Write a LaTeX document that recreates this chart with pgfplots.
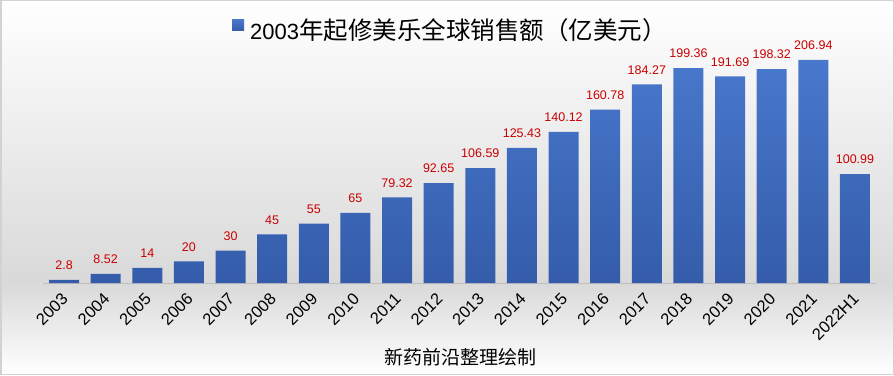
\documentclass[border=0pt]{standalone}
\usepackage{pgfplots}
\pgfplotsset{compat=1.18}
\usepackage{fontspec}
\setmainfont{Liberation Sans}
\newfontfamily\cjk{Noto Sans CJK SC}
\definecolor{barTop}{RGB}{72,120,204}
\definecolor{barBot}{RGB}{52,92,170}
\definecolor{lblred}{RGB}{204,0,0}
\definecolor{bgGray}{RGB}{217,217,217}
\definecolor{frameGray}{RGB}{210,210,210}
\definecolor{axisGray}{RGB}{190,190,190}
\begin{document}
\begin{tikzpicture}[x=1pt,y=1pt]
\useasboundingbox (0,0) rectangle (894,375);
\shade[top color=white, bottom color=bgGray] (0,92) rectangle (894,375);
\shade[top color=bgGray, bottom color=white] (0,0) rectangle (894,92.2);
\draw[frameGray, line width=1.5pt] (0.75,0.75) rectangle (893.25,374.25);
\begin{axis}[
  at={(43.2pt,92pt)}, anchor=south west,
  scale only axis, width=832.6pt, height=237.2pt,
  xmin=-0.5, xmax=19.5, ymin=0, ymax=220,
  clip=false,
  axis y line=none,
  axis x line*=bottom,
  x axis line style={-, draw=axisGray, line width=0.8pt},
  xtick={0,...,19},
  xticklabels={2003,2004,2005,2006,2007,2008,2009,2010,2011,2012,2013,2014,2015,2016,2017,2018,2019,2020,2021,2022H1},
  major tick length=0pt,
  x tick label style={xshift=1pt, yshift=-13pt, rotate=45, anchor=east, font=\fontsize{16.5}{17}\selectfont, inner sep=0pt},
  ybar, bar width=30pt,
  nodes near coords={\pgfplotspointmeta},
  point meta=explicit symbolic,
  every node near coord/.append style={font=\fontsize{12.5}{13}\selectfont, color=lblred, anchor=south, inner sep=0pt, yshift=10pt},
]
\addplot[draw=none, top color=barTop, bottom color=barBot] coordinates {
(0,2.8) [2.8]
(1,8.52) [8.52]
(2,14) [14]
(3,20) [20]
(4,30) [30]
(5,45) [45]
(6,55) [55]
(7,65) [65]
(8,79.32) [79.32]
(9,92.65) [92.65]
(10,106.59) [106.59]
(11,125.43) [125.43]
(12,140.12) [140.12]
(13,160.78) [160.78]
(14,184.27) [184.27]
(15,199.36) [199.36]
(16,191.69) [191.69]
(17,198.32) [198.32]
(18,206.94) [206.94]
(19,100.99) [100.99]
};
\end{axis}
\shade[top color=barTop, bottom color=barBot] (232,344) rectangle (244,355);
\node[anchor=base west, inner sep=0pt, font=\fontsize{22}{24}\selectfont] at (250,335.7) {2003{\cjk\fontsize{24.5}{26}\selectfont 年起修美乐全球销售额（亿美元）}};
\node[anchor=center, inner sep=0pt] at (460,17.5) {\cjk\fontsize{19}{20}\selectfont 新药前沿整理绘制};
\end{tikzpicture}
\end{document}
